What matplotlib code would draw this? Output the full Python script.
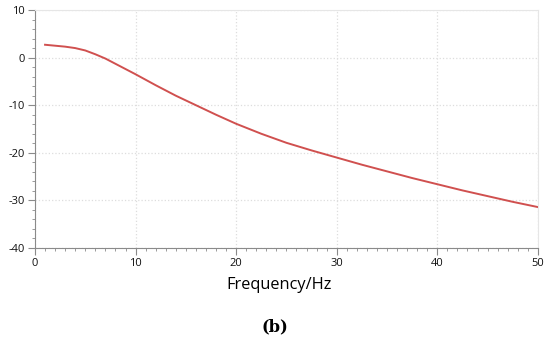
import matplotlib
matplotlib.use("Agg")
import matplotlib.pyplot as plt
from matplotlib.ticker import MultipleLocator

# frequency response
freq = [1, 2, 3, 4, 5, 6, 7, 8, 9, 10, 12, 14, 16, 18, 20, 22.5, 25, 27.5,
        30, 32.5, 35, 37.5, 40, 42.5, 45, 47.5, 50]
gain = [2.7, 2.5, 2.3, 2.0, 1.5, 0.7, -0.2, -1.3, -2.4, -3.5, -5.8, -8.0,
        -10.0, -12.0, -13.9, -16.0, -17.9, -19.5, -21.0, -22.5, -23.9, -25.3,
        -26.6, -27.9, -29.1, -30.3, -31.4]
x_ticks = [0, 10, 20, 30, 40, 50]
y_ticks = [-40, -30, -20, -10, 0, 10]

plt.rcParams['font.family'] = ['Open Sans', 'DejaVu Sans']
plt.rcParams['axes.unicode_minus'] = False

fig = plt.figure(figsize=(5.5, 3.39), dpi=100)
ax = fig.add_axes([0.0636, 0.2684, 0.9144, 0.7021])

ax.plot(freq, gain, color='#d0504f', linewidth=1.4)

ax.set_xlim(0, 50)
ax.set_ylim(-40, 10)
ax.set_xticks(x_ticks)
ax.set_yticks(y_ticks)
ax.xaxis.set_minor_locator(MultipleLocator(1))
ax.yaxis.set_minor_locator(MultipleLocator(2))
ax.grid(True, which='major', color='#dddddd', linestyle=':', linewidth=0.9)

for s in ['top', 'right']:
    ax.spines[s].set_color('#e6e6e6')
for s in ['left', 'bottom']:
    ax.spines[s].set_color('#8a8a8a')
ax.tick_params(which='major', length=5, color='#8a8a8a', labelsize=8,
               labelcolor='#111111', pad=2)
ax.tick_params(which='minor', length=2.5, color='#8a8a8a')

fig.text(0.508, 0.159, 'Frequency/Hz', fontsize=11.8, ha='center', va='center')
fig.text(0.499, 0.035, '(b)', fontsize=11.7, fontweight='bold',
         family='DejaVu Serif', ha='center', va='center')

fig.savefig('out.png', dpi=100)
